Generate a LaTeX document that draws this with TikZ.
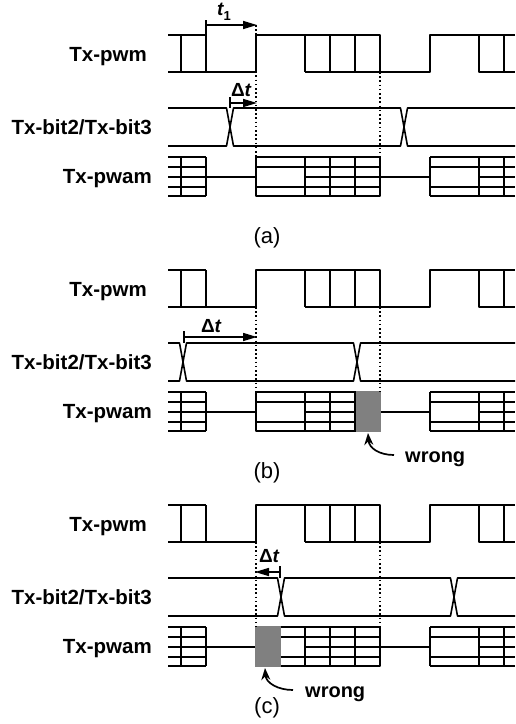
\documentclass[tikz,border=0pt]{standalone}
\usepackage{fontspec}
\setmainfont{Liberation Sans}
\usetikzlibrary{arrows.meta}
\tikzset{
  sig/.style={line width=1.6pt, line join=round},
  dotv/.style={line width=1.8pt, dash pattern=on 1.6pt off 2.6pt},
  lbl/.style={font=\fontsize{20.5}{24}\selectfont\bfseries, inner sep=0pt, anchor=base east},
  plbl/.style={font=\fontsize{22}{26}\selectfont, inner sep=0pt, anchor=base},
  dlbl/.style={font=\fontsize{19}{22}\selectfont\bfseries, inner sep=0pt},
  wlbl/.style={font=\fontsize{20}{24}\selectfont\bfseries, inner sep=0pt, anchor=base west},
  dimarr/.style={line width=1.6pt, -{Triangle[length=14pt,width=8pt]}},
  warr/.style={line width=1.7pt, -{Stealth[length=12pt,width=9pt]}},
  wfill/.style={fill=black!50, draw=none},
}
\newcommand\pwmrow{%
  \draw[sig] (168,35) -- (206,35) (168,72) -- (256,72)
    (181,35) -- (181,72) (206,35) -- (206,72)
    (256,72) -- (256,35) -- (380,35) -- (380,72)
    (305,72) -- (430,72) -- (430,35) -- (515,35)
    (305,35) -- (305,72) (330,35) -- (330,72) (355,35) -- (355,72)
    (479,35) -- (479,72) -- (515,72) (504,35) -- (504,72);}
\newcommand\bitrow[2]{%
  \draw[sig] (168,108) -- ({#1-3.5},108) -- ({#1+3.5},146) -- ({#2-3.5},146) -- ({#2+3.5},108) -- (515,108);
  \draw[sig] (168,146) -- ({#1-3.5},146) -- ({#1+3.5},108) -- ({#2-3.5},108) -- ({#2+3.5},146) -- (515,146);}
\newcommand\pwamrow{%
  \draw[sig] (168,157) -- (206,157) (168,167) -- (206,167) (168,177) -- (256,177)
    (168,187) -- (206,187) (168,196) -- (206,196)
    (181,157) -- (181,196) (206,157) -- (206,196)
    (256,157) rectangle (380,196)
    (256,167) -- (380,167) (256,187) -- (380,187) (305,177) -- (380,177)
    (305,157) -- (305,196) (330,157) -- (330,196) (355,157) -- (355,196)
    (380,177) -- (430,177)
    (430,157) -- (515,157) (430,196) -- (515,196) (430,167) -- (515,167)
    (430,187) -- (515,187) (479,177) -- (515,177)
    (430,157) -- (430,196) (479,157) -- (479,196) (504,157) -- (504,196);}
\newcommand\rowlabels[1]{%
  \node[lbl] (pwm#1) at (147,61) {Tx-pwm};
  \node[lbl] (bit#1) at (152,134) {Tx-bit2/Tx-bit3};
  \node[lbl] (pwam#1) at (152,183) {Tx-pwam};}
\begin{document}
\begin{tikzpicture}[x=1pt,y=-1pt]
\useasboundingbox (0,0) rectangle (515,724);
% ---------------- (a)
\begin{scope}
  \rowlabels{A}
  \pwmrow
  \bitrow{230}{404}
  \pwamrow
  \draw[dotv] (256,25) -- (256,157);
  \draw[dotv] (380,72) -- (380,157);
  % t1
  \draw[sig] (206,20) -- (206,35);
  \coordinate (t1s) at (206,25);
  \coordinate (t1e) at (257,25);
  \draw[dimarr] (t1s) -- (t1e);
  \node[dlbl] (t1lbl) at (224,12) {\itshape t\raisebox{-0.25em}{\fontsize{13}{14}\selectfont\upshape 1}};
  % delta t
  \draw[sig] (230,97) -- (230,108);
  \coordinate (dAs) at (230,103);
  \coordinate (dAe) at (257,103);
  \draw[dimarr] (dAs) -- (dAe);
  \node[dlbl] (dAlbl) at (241,90) {Δ\itshape t};
  \node[plbl] (capA) at (267,243) {(a)};
\end{scope}
% ---------------- (b)
\begin{scope}[shift={(0,235)}]
  \rowlabels{B}
  \pwmrow
  \bitrow{183}{357}
  \pwamrow
  \fill[wfill] (355.5,156.2) rectangle (380.8,196.8);
  \draw[sig] (355,157) -- (355,196);
  \draw[dotv] (256,72) -- (256,157);
  \draw[dotv] (380,72) -- (380,157);
  \draw[sig] (184,96) -- (184,108);
  \coordinate (dBs) at (184,102);
  \coordinate (dBe) at (257,102);
  \draw[dimarr] (dBs) -- (dBe);
  \node[dlbl] (dBlbl) at (211,91) {Δ\itshape t};
  \node[wlbl] (wB) at (405,227) {wrong};
  \coordinate (wBs) at (394,220);
  \coordinate (wBe) at (368,198);
  \draw[warr] (wBs) .. controls (379,220) and (369,213) .. (wBe);
  \node[plbl] (capB) at (267,243) {(b)};
\end{scope}
% ---------------- (c)
\begin{scope}[shift={(0,470)}]
  \rowlabels{C}
  \pwmrow
  \bitrow{281}{454}
  \pwamrow
  \fill[wfill] (255.2,156.2) rectangle (281,196.8);
  \draw[dotv] (256,72) -- (256,157);
  \draw[dotv] (380,72) -- (380,157);
  \draw[sig] (280,96) -- (280,108);
  \coordinate (dCs) at (280,102);
  \coordinate (dCe) at (255,102);
  \draw[dimarr] (dCs) -- (dCe);
  \node[dlbl] (dClbl) at (269,86) {Δ\itshape t};
  \node[wlbl] (wC) at (305,227) {wrong};
  \coordinate (wCs) at (293,220);
  \coordinate (wCe) at (265,198);
  \draw[warr] (wCs) .. controls (278,220) and (266,213) .. (wCe);
  \node[plbl] (capC) at (267,243) {(c)};
\end{scope}
\end{tikzpicture}
\end{document}
